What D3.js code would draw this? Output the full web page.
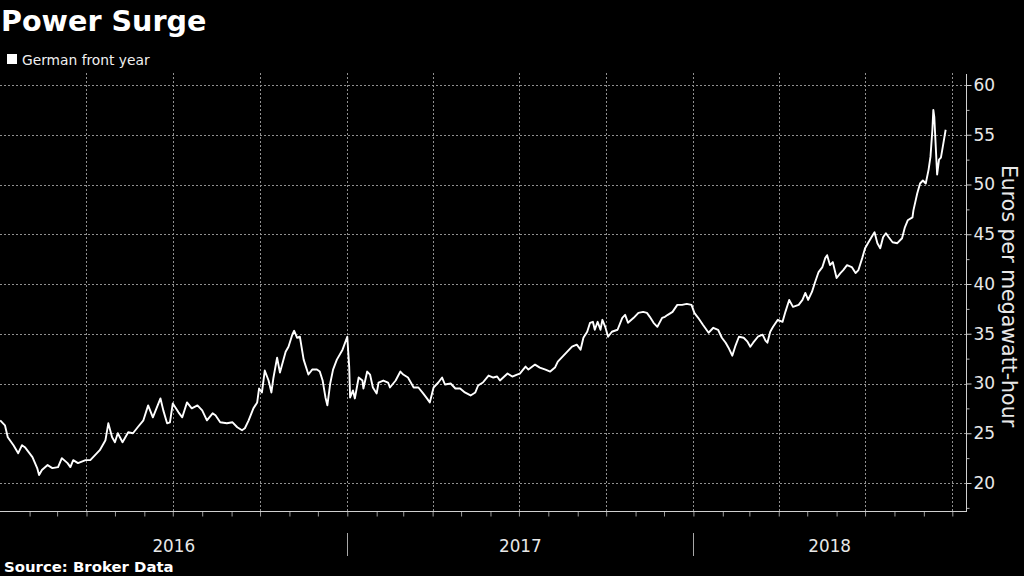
<!DOCTYPE html>
<html>
<head>
<meta charset="utf-8">
<script src="https://cdn.jsdelivr.net/npm/d3@7/dist/d3.min.js"></script>
<style>
  html, body { margin: 0; padding: 0; background: #000; }
  svg { display: block; }
  text { font-family: "DejaVu Sans", sans-serif; }
</style>
</head>
<body>
<svg id="chart" width="1024" height="576"></svg>
<script>
// ---------------- DATA ----------------
const title = "Power Surge";
const seriesName = "German front year";
const yAxisTitle = "Euros per megawatt-hour";
const sourceText = "Source: Broker Data";
const yTickValues = [20, 25, 30, 35, 40, 45, 50, 55, 60];
const yMinorTickValues = [17.5, 22.5, 27.5, 32.5, 37.5, 42.5, 47.5, 52.5, 57.5];
const yearLabels = ["2016", "2017", "2018"];

const dates = [
  "2016-01-01","2016-01-06","2016-01-09","2016-01-15","2016-01-20","2016-01-24","2016-01-27","2016-02-04","2016-02-09","2016-02-11",
  "2016-02-14","2016-02-20","2016-02-25","2016-03-02","2016-03-06","2016-03-12","2016-03-15","2016-03-18","2016-03-23","2016-03-31",
  "2016-04-05","2016-04-10","2016-04-15","2016-04-21","2016-04-24","2016-04-28","2016-05-01","2016-05-04","2016-05-09","2016-05-15",
  "2016-05-20","2016-05-25","2016-05-31","2016-06-05","2016-06-10","2016-06-18","2016-06-21","2016-06-25","2016-06-28","2016-07-01",
  "2016-07-07","2016-07-11","2016-07-16","2016-07-21","2016-07-27","2016-08-01","2016-08-06","2016-08-12","2016-08-15","2016-08-20",
  "2016-08-27","2016-09-02","2016-09-07","2016-09-12","2016-09-15","2016-09-19","2016-09-24","2016-09-28","2016-09-30","2016-10-03",
  "2016-10-06","2016-10-10","2016-10-13","2016-10-15","2016-10-19","2016-10-22","2016-10-28","2016-10-31","2016-11-04","2016-11-06",
  "2016-11-09","2016-11-12","2016-11-16","2016-11-21","2016-11-25","2016-11-30","2016-12-03","2016-12-06","2016-12-09","2016-12-11",
  "2016-12-14","2016-12-17","2016-12-21","2016-12-27",
  "2017-01-01","2017-01-03","2017-01-04","2017-01-07","2017-01-09","2017-01-13","2017-01-17","2017-01-18","2017-01-22","2017-01-25",
  "2017-01-28","2017-02-01","2017-02-03","2017-02-08","2017-02-13","2017-02-15","2017-02-21","2017-02-26","2017-03-01","2017-03-06",
  "2017-03-12","2017-03-17","2017-03-22","2017-03-26","2017-03-29","2017-04-02","2017-04-07","2017-04-11","2017-04-14","2017-04-20",
  "2017-04-25","2017-04-30","2017-05-05","2017-05-11","2017-05-16","2017-05-19","2017-05-24","2017-05-30","2017-06-04","2017-06-08",
  "2017-06-11","2017-06-19","2017-06-24","2017-06-29","2017-07-02","2017-07-08","2017-07-11","2017-07-18","2017-07-23","2017-07-29",
  "2017-08-03","2017-08-08","2017-08-11","2017-08-16","2017-08-21","2017-08-26","2017-08-31","2017-09-04","2017-09-07","2017-09-11",
  "2017-09-14","2017-09-17","2017-09-19","2017-09-22","2017-09-25","2017-09-27","2017-09-30","2017-10-03","2017-10-07","2017-10-13",
  "2017-10-18","2017-10-21","2017-10-24","2017-10-30","2017-11-04","2017-11-09","2017-11-13","2017-11-16","2017-11-20","2017-11-24",
  "2017-11-29","2017-12-02","2017-12-05","2017-12-10","2017-12-15","2017-12-20","2017-12-25","2017-12-30",
  "2018-01-02","2018-01-06","2018-01-11","2018-01-17","2018-01-22","2018-01-27","2018-01-31","2018-02-04","2018-02-07","2018-02-11",
  "2018-02-14","2018-02-18","2018-02-23","2018-02-27","2018-03-02","2018-03-05","2018-03-10","2018-03-15","2018-03-18","2018-03-20",
  "2018-03-23","2018-03-26","2018-03-31","2018-04-05","2018-04-08","2018-04-12","2018-04-16","2018-04-22","2018-04-26","2018-04-29",
  "2018-05-02","2018-05-06","2018-05-09","2018-05-13","2018-05-17","2018-05-20","2018-05-22","2018-05-25","2018-05-28","2018-06-01",
  "2018-06-05","2018-06-08","2018-06-12","2018-06-17","2018-06-21","2018-06-24","2018-06-28","2018-07-01","2018-07-04","2018-07-09",
  "2018-07-11","2018-07-14","2018-07-17","2018-07-20","2018-07-23","2018-07-26","2018-07-30","2018-08-04","2018-08-09","2018-08-12",
  "2018-08-15","2018-08-20","2018-08-21","2018-08-25","2018-08-28","2018-08-31","2018-09-03","2018-09-06","2018-09-08","2018-09-10",
  "2018-09-11","2018-09-12","2018-09-15","2018-09-17","2018-09-19","2018-09-21","2018-09-24"
];

const values = [
  26.3,25.8,24.6,23.8,23.0,23.8,23.6,22.6,21.5,20.8,
  21.3,21.8,21.5,21.6,22.5,22.0,21.6,22.3,22.0,22.3,
  22.3,22.8,23.3,24.3,26.0,24.6,24.1,25.0,24.1,25.1,
  25.0,25.6,26.3,27.8,26.6,28.5,27.3,26.0,26.1,28.0,
  27.1,26.6,28.1,27.5,27.8,27.3,26.3,27.0,26.8,26.1,
  26.0,26.1,25.6,25.3,25.5,26.3,27.5,28.1,29.5,29.1,
  31.3,30.3,29.1,30.5,32.6,31.1,33.2,33.7,34.9,35.3,
  34.6,34.7,32.4,30.9,31.4,31.4,31.2,30.3,28.6,27.8,
  30.0,31.4,32.4,33.4,
  34.7,31.7,28.6,29.3,28.5,30.6,30.3,29.5,31.2,30.9,
  29.6,29.0,30.1,30.3,30.1,29.6,30.3,31.2,30.9,30.6,
  29.6,29.6,29.0,28.5,28.1,29.6,30.1,30.6,29.9,30.0,
  29.5,29.5,29.1,28.8,29.1,29.8,30.1,30.8,30.6,30.7,
  30.3,31.0,30.7,30.9,31.0,31.7,31.4,31.9,31.6,31.4,
  31.2,31.6,32.2,32.7,33.2,33.7,33.9,33.4,34.6,35.2,
  36.1,36.2,35.4,36.2,35.4,36.4,35.7,34.7,35.2,35.4,
  36.6,36.9,36.1,36.6,37.1,37.2,37.1,36.7,36.1,35.7,
  36.6,36.7,36.9,37.2,37.9,37.9,38.0,37.9,
  37.1,36.6,35.9,35.1,35.6,35.4,34.6,34.1,33.6,32.8,
  33.7,34.7,34.6,34.2,33.7,34.1,34.7,34.9,34.3,34.1,
  35.2,35.7,36.4,36.2,37.2,38.4,37.7,37.9,38.4,39.1,
  38.4,39.2,40.1,41.2,41.7,42.6,42.9,41.9,42.2,40.6,
  41.1,41.4,41.9,41.7,41.1,41.4,42.6,43.6,44.1,44.9,
  45.2,44.1,43.6,44.7,45.1,44.7,44.2,44.1,44.6,45.7,
  46.4,46.7,47.4,49.1,50.1,50.4,50.1,51.5,52.8,55.5,
  57.5,56.8,51.0,52.5,52.7,53.8,55.5
];

// ---------------- CHART ----------------
const parse = d3.utcParse("%Y-%m-%d");
const data = dates.map((d, i) => ({ date: parse(d), value: values[i] }));

const W = 1024, H = 576;
const plotLeft = 0, plotRight = 966, plotTop = 73, plotBottom = 511;

const svg = d3.select("#chart");
svg.append("rect").attr("width", W).attr("height", H).attr("fill", "#000");

const x = d3.scaleUtc()
  .domain([new Date(Date.UTC(2016, 0, 1)), new Date(Date.UTC(2018, 9, 1))])
  .range([0.2, 952.3]);
const xEnd = x.invert(plotRight);

const y = d3.scaleLinear().domain([20, 60]).range([483, 85]);

const gridColor = "#909090";

// horizontal gridlines
svg.append("g").selectAll("line").data(yTickValues).join("line")
  .attr("x1", plotLeft).attr("x2", plotRight)
  .attr("y1", d => Math.round(y(d)) + 0.5).attr("y2", d => Math.round(y(d)) + 0.5)
  .attr("stroke", gridColor).attr("stroke-width", 1).attr("stroke-dasharray", "2,2");

// vertical quarterly gridlines
const quarterStarts = d3.utcMonth.every(3).range(new Date(Date.UTC(2016, 3, 1)), xEnd);
svg.append("g").selectAll("line").data(quarterStarts).join("line")
  .attr("x1", d => Math.round(x(d)) + 0.5).attr("x2", d => Math.round(x(d)) + 0.5)
  .attr("y1", plotTop).attr("y2", plotBottom)
  .attr("stroke", gridColor).attr("stroke-width", 1).attr("stroke-dasharray", "2,2");

// x axis: monthly ticks
const xAxis = d3.axisBottom(x)
  .tickValues(d3.utcMonth.every(1).range(new Date(Date.UTC(2016, 1, 1)), xEnd))
  .tickSize(5).tickFormat("");
const gx = svg.append("g").attr("transform", `translate(0,${plotBottom + 0.5})`).call(xAxis);
gx.select(".domain").remove();
gx.selectAll(".tick line").attr("stroke", "#9a9a9a");
svg.append("line").attr("x1", plotLeft).attr("x2", plotRight + 0.5)
  .attr("y1", plotBottom + 0.5).attr("y2", plotBottom + 0.5)
  .attr("stroke", "#d0d0d0").attr("stroke-width", 1);

// year separators and labels
const yearStarts = [2016, 2017, 2018].map(yr => new Date(Date.UTC(yr, 0, 1)));
svg.append("g").selectAll("line").data(yearStarts.slice(1)).join("line")
  .attr("x1", d => Math.round(x(d)) + 0.5).attr("x2", d => Math.round(x(d)) + 0.5)
  .attr("y1", 533).attr("y2", 556)
  .attr("stroke", "#a8a8a8").attr("stroke-width", 1);
svg.append("g").selectAll("text").data(yearLabels).join("text")
  .attr("x", (d, i) => {
    const a = Math.max(plotLeft, x(yearStarts[i]));
    const b = i < 2 ? x(yearStarts[i + 1]) : plotRight;
    return (a + b) / 2;
  })
  .attr("y", 551.5)
  .attr("text-anchor", "middle")
  .attr("fill", "#e8e8e8")
  .attr("font-size", "16.8px")
  .text(d => d);

// y axis (right)
const yAxis = d3.axisRight(y).tickValues(yTickValues).tickSize(5).tickPadding(2)
  .tickFormat(d3.format("d"));
const gy = svg.append("g").attr("transform", `translate(${plotRight + 0.5},0)`).call(yAxis);
gy.select(".domain").remove();
gy.selectAll(".tick line").attr("stroke", "#d0d0d0");
gy.selectAll(".tick text").attr("fill", "#e8e8e8").attr("font-size", "17px")
  .attr("font-family", "DejaVu Sans, sans-serif");
const yMinor = d3.axisRight(y).tickValues(yMinorTickValues).tickSize(3).tickFormat("");
const gym = svg.append("g").attr("transform", `translate(${plotRight + 0.5},0)`).call(yMinor);
gym.select(".domain").remove();
gym.selectAll(".tick line").attr("stroke", "#b0b0b0");
svg.append("line").attr("x1", plotRight + 0.5).attr("x2", plotRight + 0.5)
  .attr("y1", 74).attr("y2", plotBottom + 1)
  .attr("stroke", "#d0d0d0").attr("stroke-width", 1);

// y axis title
svg.append("text")
  .attr("transform", `translate(1002,296) rotate(90)`)
  .attr("text-anchor", "middle")
  .attr("fill", "#e8e8e8")
  .attr("font-size", "20.5px")
  .text(yAxisTitle);

// line
svg.append("defs").append("clipPath").attr("id", "plotclip")
  .append("rect").attr("x", plotLeft).attr("y", plotTop).attr("width", plotRight - plotLeft).attr("height", plotBottom - plotTop);
const line = d3.line().x(d => x(d.date)).y(d => y(d.value)).curve(d3.curveLinear);
svg.append("path").datum(data)
  .attr("clip-path", "url(#plotclip)")
  .attr("d", line)
  .attr("fill", "none")
  .attr("stroke", "#ffffff")
  .attr("stroke-width", 1.9)
  .attr("stroke-linejoin", "round");

// title
svg.append("text").attr("x", 1).attr("y", 31)
  .attr("fill", "#ffffff").attr("font-weight", "bold").attr("font-size", "28.6px")
  .text(title);

// legend
svg.append("rect").attr("x", 7).attr("y", 54).attr("width", 10).attr("height", 10).attr("fill", "#ffffff");
svg.append("text").attr("x", 22).attr("y", 64.5)
  .attr("fill", "#f0f0f0").attr("font-size", "13.8px")
  .text(seriesName);

// source
svg.append("text").attr("x", 4).attr("y", 572)
  .attr("fill", "#ffffff").attr("font-weight", "bold").attr("font-size", "14.9px")
  .text(sourceText);
</script>
</body>
</html>
